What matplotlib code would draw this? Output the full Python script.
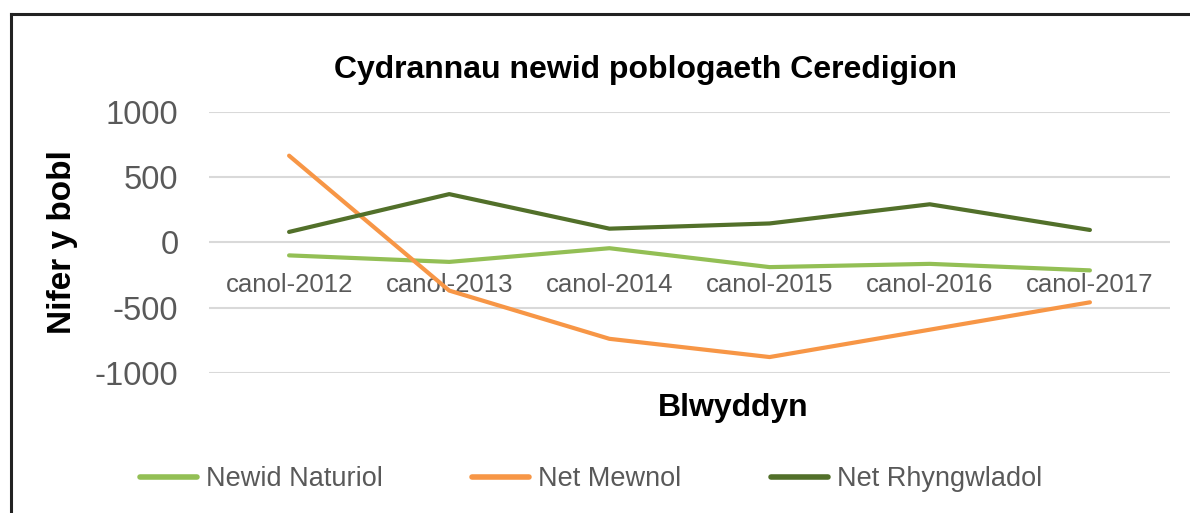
import matplotlib.pyplot as plt
from matplotlib.lines import Line2D

plt.rcParams['font.family'] = ['Liberation Sans', 'DejaVu Sans']
plt.rcParams['axes.unicode_minus'] = False

# data
years = ["canol-2012", "canol-2013", "canol-2014", "canol-2015", "canol-2016", "canol-2017"]
newid_naturiol = [-100, -150, -45, -190, -165, -215]
net_mewnol = [665, -370, -740, -880, -670, -460]
net_rhyngwladol = [80, 370, 105, 145, 292, 95]

series_names = ["Newid Naturiol", "Net Mewnol", "Net Rhyngwladol"]
series_colors = ["#93BF55", "#F79646", "#52702A"]

W, H = 1190, 513
fig = plt.figure(figsize=(W / 100, H / 100), dpi=100)
ax = fig.add_axes([209 / W, 1 - 372.7 / H, (1170 - 209) / W, (372.7 - 112) / H])

x = range(len(years))
for vals, name, col in zip([newid_naturiol, net_mewnol, net_rhyngwladol], series_names, series_colors):
    ax.plot(x, vals, color=col, lw=3, label=name, solid_capstyle="round", zorder=3)

ax.set_xlim(-0.5, len(years) - 0.5)
ax.set_ylim(-1000, 1000)
ax.set_yticks([-1000, -500, 0, 500, 1000])
ax.yaxis.grid(True, color="#D9D9D9", lw=1.5)
ax.set_axisbelow(True)

ax.set_xticks(list(x))
ax.set_xticklabels(years)
ax.spines["bottom"].set_position(("data", 0))
for s in ax.spines.values():
    s.set_visible(False)
ax.tick_params(axis="x", length=0, pad=22, labelsize=18.5, labelcolor="#595959")
ax.tick_params(axis="y", length=0, pad=22, labelsize=23.5, labelcolor="#595959")

fig.text(645 / W, 1 - 70 / H, "Cydrannau newid poblogaeth Ceredigion", ha="center", va="center",
         fontsize=23, fontweight="bold")
fig.text(62 / W, 1 - 242 / H, "Nifer y bobl", rotation=90, ha="center", va="center",
         fontsize=24, fontweight="bold")
fig.text(733 / W, 1 - 408 / H, "Blwyddyn", ha="center", va="center", fontsize=23, fontweight="bold")

leg = fig.legend(loc="center", bbox_to_anchor=(591 / W, 1 - 479 / H), ncol=3, frameon=False,
                 fontsize=19.5, handlelength=2.1, handletextpad=0.33, columnspacing=3.3)
for t in leg.get_texts():
    t.set_color("#595959")
for h in leg.get_lines():
    h.set_linewidth(4)

# frame lines on the left and top of the figure
fig.add_artist(Line2D([11 / W, 11 / W], [0, 1 - 14 / H], color="#222222", lw=2.2, transform=fig.transFigure))
fig.add_artist(Line2D([11 / W, 1], [1 - 14 / H, 1 - 14 / H], color="#222222", lw=2.2, transform=fig.transFigure))

fig.savefig("out.png", dpi=100)
